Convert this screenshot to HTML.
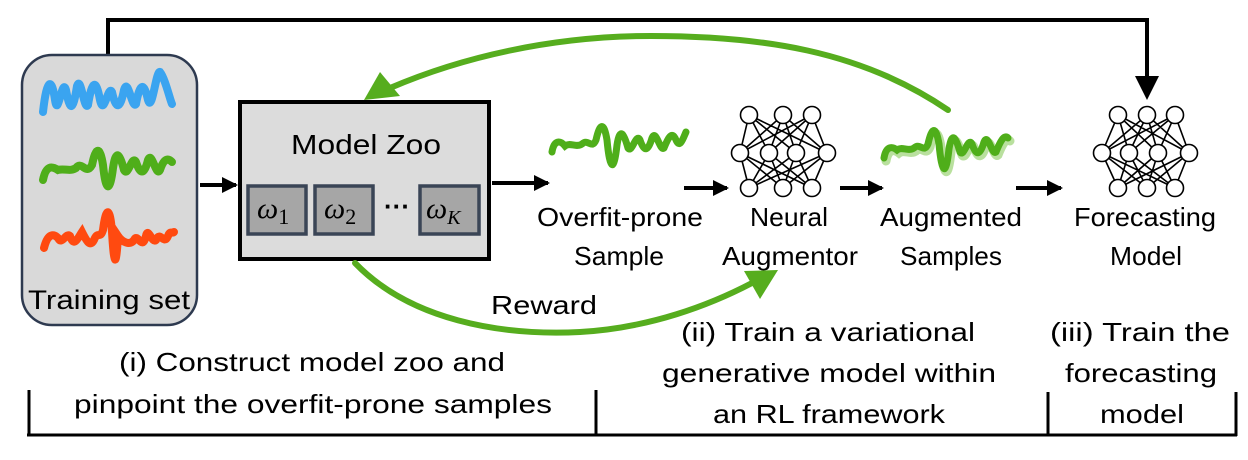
<!DOCTYPE html>
<html><head><meta charset="utf-8"><style>
html,body{margin:0;padding:0;background:#fff;}
svg{display:block;}
text{font-family:"Liberation Sans Narrow","Liberation Sans",sans-serif;fill:#000;}
</style></head><body>
<svg width="1248" height="460" viewBox="0 0 1248 460" xmlns="http://www.w3.org/2000/svg">
<defs>
<marker id="ab" markerWidth="16" markerHeight="16" refX="14" refY="8" orient="auto" markerUnits="userSpaceOnUse" viewBox="0 0 16 16">
<path d="M0,0 L16,8 L0,16 z" fill="#000"/></marker>
</defs>
<!-- top feedback line -->
<polyline points="108,56 108,20 1147,20 1147,80" fill="none" stroke="#000" stroke-width="4"/>
<path d="M1135,76 L1159,76 L1147,100 z" fill="#000"/>

<!-- training set -->
<rect x="22" y="55" width="175" height="270" rx="30" fill="#d9d9d9" stroke="#2e3a50" stroke-width="2.5"/>
<path d="M43,112 C47,76 52,78 55,100 C58,120 62,76 66,90 C70,112 73,112 77,86 C81,74 84,112 88,105 C92,80 96,78 100,100 C104,118 108,84 112,92 C116,110 120,110 124,90 C128,76 132,110 136,104 C140,82 144,82 148,100 C152,114 156,70 160,72 C165,78 170,100 172,104" fill="none" stroke="#3aa4f0" stroke-width="8" stroke-linecap="round"/>
<path d="M43,180 C46,165 52,166 58,170 C64,168 70,172 76,168 C82,160 86,176 92,165 C96,146 100,146 103,165 C106,194 110,192 113,168 C116,148 120,154 124,170 C128,178 132,154 136,162 C140,174 144,176 148,160 C152,150 156,178 160,170 C164,158 168,158 172,162" fill="none" stroke="#4fae1a" stroke-width="8" stroke-linecap="round"/>
<path d="M44,248 C47,236 52,232 58,238 C62,246 66,232 70,236 C74,248 78,238 82,232 C86,240 90,248 94,240 C98,230 100,240 103,230 C106,206 110,206 112,232 C114,266 116,270 118,236 C122,242 130,246 134,240 C138,232 142,252 146,236 C148,226 152,244 156,240 C160,230 164,246 168,236 C170,230 172,234 174,232" fill="none" stroke="#ff4a10" stroke-width="8" stroke-linecap="round"/>
<text x="109" y="309" font-size="27" text-anchor="middle" textLength="162" lengthAdjust="spacingAndGlyphs">Training set</text>

<!-- arrow train->zoo -->
<line x1="200" y1="185" x2="236" y2="185" stroke="#000" stroke-width="4" marker-end="url(#ab)"/>

<!-- model zoo -->
<rect x="240" y="102" width="249" height="157" fill="#dcdcdc" stroke="#000" stroke-width="4"/>
<text x="366" y="154" font-size="28" text-anchor="middle" textLength="150" lengthAdjust="spacingAndGlyphs">Model Zoo</text>
<g fill="#a6a6a6" stroke="#3a4556" stroke-width="3.5">
<rect x="248" y="186" width="58" height="48"/>
<rect x="315" y="186" width="58" height="48"/>
<rect x="420" y="186" width="59" height="48"/>
</g>
<text x="257" y="218" font-size="30" font-style="italic" style="font-family:'Liberation Serif',serif">ω<tspan font-style="normal" font-size="22" dy="6">1</tspan></text>
<text x="324" y="218" font-size="30" font-style="italic" style="font-family:'Liberation Serif',serif">ω<tspan font-style="normal" font-size="22" dy="6">2</tspan></text>
<text x="426" y="218" font-size="30" font-style="italic" style="font-family:'Liberation Serif',serif">ω<tspan font-size="20" dy="6">K</tspan></text>
<text x="397" y="215" font-size="26" font-weight="bold" text-anchor="middle">···</text>

<!-- zoo -> sample arrow -->
<line x1="492" y1="183" x2="548" y2="183" stroke="#000" stroke-width="4" marker-end="url(#ab)"/>

<!-- overfit sample wave -->
<path d="M552,152 C554,140 560,140 565,146 C570,142 576,148 582,144 C588,138 592,150 596,140 C600,122 604,122 607,140 C610,172 614,172 617,145 C620,126 624,134 628,148 C632,154 636,132 640,140 C644,152 648,152 652,138 C656,128 660,152 664,148 C668,138 672,130 676,140 C680,150 684,136 686,132" fill="none" stroke="#4fae1a" stroke-width="7" stroke-linecap="round"/>
<text x="620" y="226" font-size="26" text-anchor="middle" textLength="166" lengthAdjust="spacingAndGlyphs">Overfit-prone</text>
<text x="619" y="265" font-size="26" text-anchor="middle" textLength="90" lengthAdjust="spacingAndGlyphs">Sample</text>

<line x1="684" y1="188" x2="727" y2="188" stroke="#000" stroke-width="4" marker-end="url(#ab)"/>

<!-- neural net 1 -->
<g stroke="#000" stroke-width="1.6" fill="none">
<path d="M749,115 L740,153 M749,115 L769,153 M749,115 L796,153 M749,115 L827,153 M783,115 L740,153 M783,115 L769,153 M783,115 L796,153 M783,115 L827,153 M812,115 L740,153 M812,115 L769,153 M812,115 L796,153 M812,115 L827,153 M749,188 L740,153 M749,188 L769,153 M749,188 L796,153 M749,188 L827,153 M783,188 L740,153 M783,188 L769,153 M783,188 L796,153 M783,188 L827,153 M812,188 L740,153 M812,188 L769,153 M812,188 L796,153 M812,188 L827,153"/>
</g>
<g stroke="#000" stroke-width="1.6" fill="#fff">
<circle cx="749" cy="115" r="8.5"/><circle cx="783" cy="115" r="8.5"/><circle cx="812" cy="115" r="8.5"/>
<circle cx="740" cy="153" r="8.5"/><circle cx="769" cy="153" r="8.5"/><circle cx="796" cy="153" r="8.5"/><circle cx="827" cy="153" r="8.5"/>
<circle cx="749" cy="188" r="8.5"/><circle cx="783" cy="188" r="8.5"/><circle cx="812" cy="188" r="8.5"/>
</g>
<text x="789" y="226" font-size="26" text-anchor="middle" textLength="78" lengthAdjust="spacingAndGlyphs">Neural</text>
<text x="790" y="265" font-size="26" text-anchor="middle" textLength="136" lengthAdjust="spacingAndGlyphs">Augmentor</text>

<line x1="840" y1="188" x2="882" y2="188" stroke="#000" stroke-width="4" marker-end="url(#ab)"/>

<!-- augmented wave -->
<path d="M884,158 C886,146 892,146 897,150 C902,146 908,152 914,148 C920,142 924,154 928,144 C932,126 936,126 939,144 C942,176 946,176 949,149 C952,130 956,138 960,152 C964,158 968,136 972,144 C976,156 980,156 984,142 C988,132 992,156 996,152 C1000,142 1004,134 1008,138" fill="none" stroke="#b9e09e" stroke-width="9" stroke-linecap="round" transform="translate(2,3)"/>
<path d="M884,158 C886,146 892,146 897,150 C902,146 908,152 914,148 C920,142 924,154 928,144 C932,126 936,126 939,144 C942,176 946,176 949,149 C952,130 956,138 960,152 C964,158 968,136 972,144 C976,156 980,156 984,142 C988,132 992,156 996,152 C1000,142 1004,134 1008,138" fill="none" stroke="#4fae1a" stroke-width="7" stroke-linecap="round"/>
<text x="951" y="226" font-size="26" text-anchor="middle" textLength="142" lengthAdjust="spacingAndGlyphs">Augmented</text>
<text x="951" y="265" font-size="26" text-anchor="middle" textLength="102" lengthAdjust="spacingAndGlyphs">Samples</text>

<line x1="1016" y1="188" x2="1061" y2="188" stroke="#000" stroke-width="4" marker-end="url(#ab)"/>

<!-- neural net 2 -->
<g stroke="#000" stroke-width="1.6" fill="none">
<path d="M1118,115 L1102,153 M1118,115 L1129,153 M1118,115 L1158,153 M1118,115 L1189,153 M1147,115 L1102,153 M1147,115 L1129,153 M1147,115 L1158,153 M1147,115 L1189,153 M1175,115 L1102,153 M1175,115 L1129,153 M1175,115 L1158,153 M1175,115 L1189,153 M1118,188 L1102,153 M1118,188 L1129,153 M1118,188 L1158,153 M1118,188 L1189,153 M1147,188 L1102,153 M1147,188 L1129,153 M1147,188 L1158,153 M1147,188 L1189,153 M1175,188 L1102,153 M1175,188 L1129,153 M1175,188 L1158,153 M1175,188 L1189,153"/>
</g>
<g stroke="#000" stroke-width="1.6" fill="#fff">
<circle cx="1118" cy="115" r="8.5"/><circle cx="1147" cy="115" r="8.5"/><circle cx="1175" cy="115" r="8.5"/>
<circle cx="1102" cy="153" r="8.5"/><circle cx="1129" cy="153" r="8.5"/><circle cx="1158" cy="153" r="8.5"/><circle cx="1189" cy="153" r="8.5"/>
<circle cx="1118" cy="188" r="8.5"/><circle cx="1147" cy="188" r="8.5"/><circle cx="1175" cy="188" r="8.5"/>
</g>
<text x="1145" y="226" font-size="26" text-anchor="middle" textLength="142" lengthAdjust="spacingAndGlyphs">Forecasting</text>
<text x="1146" y="265" font-size="26" text-anchor="middle" textLength="72" lengthAdjust="spacingAndGlyphs">Model</text>

<!-- green feedback arc -->
<path d="M948,110 C860,50 760,36 651,36 C550,36 460,58 390,88" fill="none" stroke="#56ad1e" stroke-width="6" stroke-linecap="round"/>
<path d="M364,100 L380,72 L400,96 z" fill="#56ad1e"/>

<!-- reward arc -->
<path d="M355,263 C410,320 500,336 580,332 C650,328 710,305 752,283" fill="none" stroke="#56ad1e" stroke-width="6" stroke-linecap="round"/>
<path d="M778,270 L744,271 L760,299 z" fill="#56ad1e"/>
<text x="544" y="314" font-size="26" text-anchor="middle" textLength="106" lengthAdjust="spacingAndGlyphs">Reward</text>

<!-- bottom captions -->
<text x="312" y="371" font-size="26" text-anchor="middle" textLength="386" lengthAdjust="spacingAndGlyphs">(i) Construct model zoo and</text>
<text x="313" y="413" font-size="26" text-anchor="middle" textLength="478" lengthAdjust="spacingAndGlyphs">pinpoint the overfit-prone samples</text>
<text x="828" y="341" font-size="26" text-anchor="middle" textLength="294" lengthAdjust="spacingAndGlyphs">(ii) Train a variational</text>
<text x="829" y="382" font-size="26" text-anchor="middle" textLength="334" lengthAdjust="spacingAndGlyphs">generative model within</text>
<text x="829" y="423" font-size="26" text-anchor="middle" textLength="232" lengthAdjust="spacingAndGlyphs">an RL framework</text>
<text x="1140" y="341" font-size="26" text-anchor="middle" textLength="180" lengthAdjust="spacingAndGlyphs">(iii) Train the</text>
<text x="1141" y="382" font-size="26" text-anchor="middle" textLength="152" lengthAdjust="spacingAndGlyphs">forecasting</text>
<text x="1142" y="423" font-size="26" text-anchor="middle" textLength="84" lengthAdjust="spacingAndGlyphs">model</text>

<!-- bracket -->
<g stroke="#000" stroke-width="3" fill="none">
<line x1="27" y1="435" x2="1237" y2="435"/>
<line x1="29" y1="390" x2="29" y2="436"/>
<line x1="596" y1="390" x2="596" y2="436"/>
<line x1="1048" y1="392" x2="1048" y2="436"/>
<line x1="1236" y1="392" x2="1236" y2="436"/>
</g>
</svg>
</body></html>
